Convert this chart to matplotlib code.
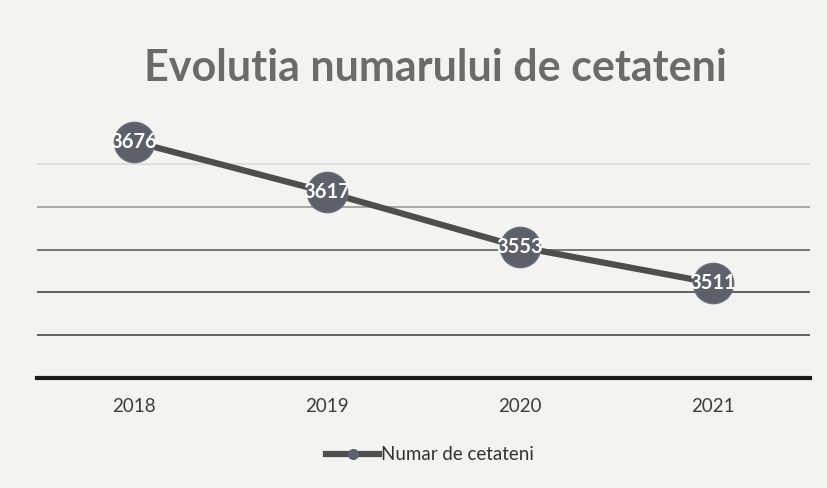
import matplotlib
matplotlib.use("Agg")
import matplotlib.pyplot as plt
from matplotlib.lines import Line2D

years = ["2018", "2019", "2020", "2021"]
citizens = [3676, 3617, 3553, 3511]
series_name = "Numar de cetateni"
title = "Evolutia numarului de cetateni"
y_min, y_max, y_step = 3400, 3700, 50

plt.rcParams["font.family"] = ["Lato", "DejaVu Sans"]

fig = plt.figure(figsize=(8.27, 4.88), dpi=100, facecolor="#f3f3f1")
ax = fig.add_axes([0.045, 0.225, 0.934, 0.527])
ax.set_facecolor("#f3f3f1")

x = list(range(len(years)))
ax.set_xlim(-0.5, len(years) - 0.5)
ax.set_ylim(y_min, y_max)

grid_vals = list(range(y_min + y_step, y_max, y_step))
grid_cols = ["#555555", "#555555", "#6a6a6a", "#a0a0a0", "#dcdcdc"]
for v, c in zip(grid_vals, grid_cols):
    ax.axhline(v, color=c, lw=1.3, zorder=1)

ax.plot(x, citizens, color="#4e4e4e", lw=4.5, marker="o",
        markersize=29, markerfacecolor="#5d606b", markeredgecolor="#6a6d78",
        markeredgewidth=1, zorder=3, label=series_name)

for xi, v in zip(x, citizens):
    ax.text(xi, v, str(v), color="white", fontsize=14.5, fontweight="bold",
            ha="center", va="center", zorder=4)

ax.set_xticks(x)
ax.set_xticklabels(years, fontsize=13.5, color="#3c3c3c")
ax.tick_params(axis="x", length=0, pad=14)
ax.set_yticks([])
for s in ["top", "right", "left"]:
    ax.spines[s].set_visible(False)
ax.spines["bottom"].set_color("#1a1a1a")
ax.spines["bottom"].set_linewidth(3)

fig.text(0.527, 0.86, title, ha="center", va="center", fontsize=31,
         color="#6b6b6b", fontweight="bold")

h = Line2D([0], [0], color="#4e4e4e", lw=4.5, marker="o", markersize=7,
           markerfacecolor="#5d606b", markeredgecolor="#5d606b")
fig.legend([h], [series_name], loc="center", bbox_to_anchor=(0.52, 0.068),
           frameon=False, fontsize=13.5, handlelength=2.8, handletextpad=0.1,
           labelcolor="#333333")

fig.savefig("out.png", dpi=100, facecolor=fig.get_facecolor())
